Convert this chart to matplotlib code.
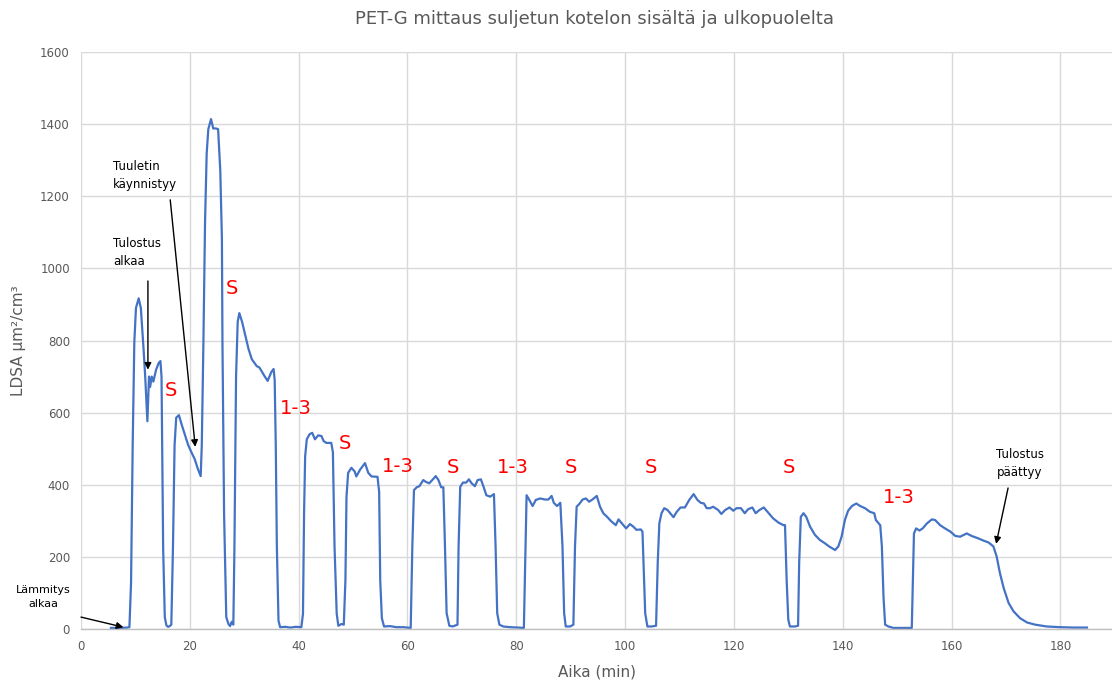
import matplotlib
matplotlib.use("Agg")
import matplotlib.pyplot as plt

# LDSA measurement, PET-G print in a closed enclosure (time in minutes)
time_min = [
    5.5, 7.0, 8.5, 8.9, 9.2, 9.5, 9.8, 10.1, 10.6, 11.0, 11.5, 11.8, 12.2, 12.5, 12.7,
    13.0, 13.3, 13.8, 14.3, 14.6, 14.8, 15.1, 15.4, 15.7, 16.0, 16.3, 16.6, 16.9, 17.2,
    17.5, 18.0, 18.5, 19.1, 19.7, 20.3, 20.9, 21.5, 22.0, 22.2, 22.5, 22.8, 23.1, 23.4,
    23.9, 24.3, 24.8, 25.2, 25.6, 25.9, 26.0, 26.3, 26.7, 27.1, 27.4, 27.7, 28.0, 28.2,
    28.5, 28.8, 29.1, 29.6, 30.2, 30.8, 31.4, 32.3, 32.8, 33.7, 34.3, 35.0, 35.4, 35.6,
    35.8, 36.0, 36.3, 36.6, 37.5, 38.5, 39.5, 40.5, 40.8, 41.0, 41.2, 41.5, 42.0, 42.5,
    43.0, 43.6, 44.2, 44.6, 45.1, 46.0, 46.3, 46.6, 47.0, 47.3, 47.9, 48.3, 48.6, 48.8,
    49.1, 49.7, 50.3, 50.6, 51.3, 52.2, 52.8, 53.4, 54.5, 54.8, 55.0, 55.3, 55.7, 56.8,
    58.0, 59.3, 60.6, 60.9, 61.2, 61.7, 62.2, 62.9, 63.4, 64.0, 64.8, 65.2, 65.7, 66.2,
    66.6, 66.9, 67.2, 67.7, 68.3, 69.2, 69.4, 69.7, 70.2, 70.8, 71.3, 71.8, 72.4, 72.9,
    73.5, 74.0, 74.5, 75.2, 75.9, 76.2, 76.5, 76.9, 77.6, 78.9, 80.4, 81.4, 81.7, 81.9,
    82.4, 83.0, 83.6, 84.4, 85.3, 85.9, 86.5, 86.9, 87.5, 88.1, 88.5, 88.8, 89.1, 89.9,
    90.5, 90.8, 91.1, 91.6, 92.2, 92.8, 93.4, 94.0, 94.8, 95.4, 96.0, 96.7, 97.5, 98.3,
    98.8, 99.4, 100.2, 100.9, 101.5, 102.1, 102.9, 103.2, 103.5, 103.7, 104.1, 104.9,
    105.7, 106.0, 106.3, 106.7, 107.2, 107.8, 108.3, 108.9, 109.5, 110.2, 111.0, 111.8,
    112.6, 113.3, 113.9, 114.5, 115.0, 115.6, 116.2, 117.1, 117.7, 118.4, 119.2, 119.9,
    120.5, 121.3, 122.0, 122.6, 123.4, 124.0, 124.7, 125.5, 126.3, 127.2, 128.2, 129.1,
    129.4, 129.7, 130.0, 130.3, 131.2, 131.8, 132.0, 132.3, 132.8, 133.3, 134.0, 134.9,
    135.8, 136.7, 137.5, 138.6, 139.2, 139.8, 140.4, 141.0, 141.7, 142.5, 143.2, 144.1,
    145.0, 145.8, 146.1, 146.9, 147.2, 147.5, 147.8, 148.4, 149.3, 150.6, 152.1, 152.7,
    152.9, 153.1, 153.5, 154.1, 154.7, 155.5, 156.4, 157.0, 157.9, 158.8, 159.8, 160.7,
    161.6, 162.8, 163.7, 164.8, 165.9, 166.8, 167.7, 168.3, 168.9, 169.6, 170.5, 171.4,
    172.6, 173.9, 175.4, 177.5, 180.0, 182.5, 184.9,
]
ldsa = [
    3, 3, 4, 5, 128, 510, 795, 890, 917, 890, 776, 700, 576, 700, 671,
    700, 686, 719, 738, 743, 700, 224, 33, 10, 6, 8, 12, 224, 510,
    586, 593, 567, 538, 510, 490, 471, 443, 424, 510, 795, 1129, 1319, 1386,
    1414, 1388, 1388, 1386, 1271, 1081, 795, 319, 33, 14, 8, 20, 12, 224,
    700, 852, 876, 852, 814, 776, 748, 729, 725, 702, 688, 713, 721, 690,
    507, 228, 23, 5, 6, 4, 6, 5, 42, 321, 479, 526, 540, 544,
    526, 537, 535, 521, 516, 516, 490, 228, 42, 9, 14, 12, 135, 367,
    433, 447, 437, 423, 442, 460, 433, 423, 422, 380, 135, 30, 7, 8,
    5, 5, 3, 229, 385, 393, 396, 413, 408, 404, 417, 424, 413, 393,
    393, 229, 44, 9, 7, 12, 229, 394, 406, 406, 415, 404, 396, 413,
    415, 394, 371, 367, 374, 229, 44, 12, 7, 5, 4, 3, 229, 371,
    358, 341, 358, 362, 359, 359, 369, 350, 341, 350, 229, 44, 7, 7,
    12, 229, 339, 347, 359, 362, 353, 359, 369, 339, 321, 311, 298, 288,
    304, 293, 279, 291, 284, 275, 276, 270, 136, 44, 7, 7,
    9, 182, 293, 321, 335, 330, 321, 310, 325, 337, 337, 358,
    374, 358, 350, 348, 335, 335, 339, 330, 319, 330, 337, 328,
    335, 335, 321, 332, 337, 321, 330, 337, 323, 307, 295, 288,
    288, 136, 26, 7, 7, 9, 182, 311, 321, 311, 284, 261,
    247, 238, 229, 219, 229, 256, 302, 328, 341, 348, 341, 335,
    325, 321, 302, 288, 229, 90, 12, 7, 3, 3, 3, 3,
    136, 265, 279, 273, 279, 293, 304, 302, 288, 279, 270, 258,
    256, 265, 258, 252, 245, 240, 229, 201, 155, 113, 72, 49,
    30, 18, 12, 7, 5, 4, 4,
]

# Filter markers: S = standard filter, 1-3 = filter levels 1-3
marker_labels = ["S", "S", "1-3", "S", "1-3", "S", "1-3", "S", "S", "S", "1-3"]
marker_t = [16.5, 27.7, 39.4, 48.6, 58.3, 68.3, 79.4, 90.0, 104.8, 130.2, 150.3]
marker_v = [660, 944, 612, 514, 450, 448, 448, 448, 448, 448, 364]

x_ticks = list(range(0, 181, 20))
y_ticks = list(range(0, 1601, 200))

TEXT_GREY = "#595959"
GRID = "#d9d9d9"
LINE = "#4472C4"

fig = plt.figure(figsize=(11.12, 6.86), dpi=100)
ax = fig.add_axes([81 / 1112, 57 / 686, 1 - 81 / 1112, (629 - 52) / 686])

ax.plot(time_min, ldsa, color=LINE, linewidth=1.6, solid_joinstyle="round")

ax.set_xlim(0, 189.5)
ax.set_ylim(0, 1600)
ax.set_xticks(x_ticks)
ax.set_yticks(y_ticks)
ax.tick_params(length=0, labelsize=8.5, colors=TEXT_GREY, pad=8)
ax.grid(True, color=GRID, linewidth=1.0)
ax.set_axisbelow(True)
for side in ("left", "top", "right"):
    ax.spines[side].set_visible(False)
ax.spines["bottom"].set_color("#bfbfbf")
ax.spines["bottom"].set_linewidth(1.0)

ax.set_xlabel("Aika (min)", fontsize=11, color=TEXT_GREY, labelpad=8)
ax.set_ylabel("LDSA µm²/cm³", fontsize=11, color=TEXT_GREY, labelpad=10)
fig.text(0.535, 0.972, "PET-G mittaus suljetun kotelon sisältä ja ulkopuolelta",
         ha="center", va="center", fontsize=13, color=TEXT_GREY)

for lab, t, v in zip(marker_labels, marker_t, marker_v):
    ax.text(t, v, lab, color="red", fontsize=14, ha="center", va="center")

arrow = dict(arrowstyle="-|>", color="black", lw=1.0, mutation_scale=10,
             shrinkA=0, shrinkB=0)
ax.annotate("", xy=(7.8, 5), xytext=(0.0, 33), arrowprops=arrow,
            annotation_clip=False)
ax.text(-6.9, 88, "Lämmitys\nalkaa", fontsize=8, ha="center", va="center",
        linespacing=1.55, clip_on=False)

ax.annotate("", xy=(12.3, 719), xytext=(12.3, 965), arrowprops=arrow)
ax.text(5.9, 1045, "Tulostus\nalkaa", fontsize=8.5, ha="left", va="center",
        linespacing=1.5)

ax.annotate("", xy=(21.0, 505), xytext=(16.4, 1190), arrowprops=arrow)
ax.text(5.9, 1257, "Tuuletin\nkäynnistyy", fontsize=8.5, ha="left", va="center",
        linespacing=1.5)

ax.annotate("", xy=(168.2, 236), xytext=(170.4, 391), arrowprops=arrow)
ax.text(172.6, 458, "Tulostus\npäättyy", fontsize=8.5, ha="center", va="center",
        linespacing=1.5)

fig.savefig("out.png", dpi=100)
